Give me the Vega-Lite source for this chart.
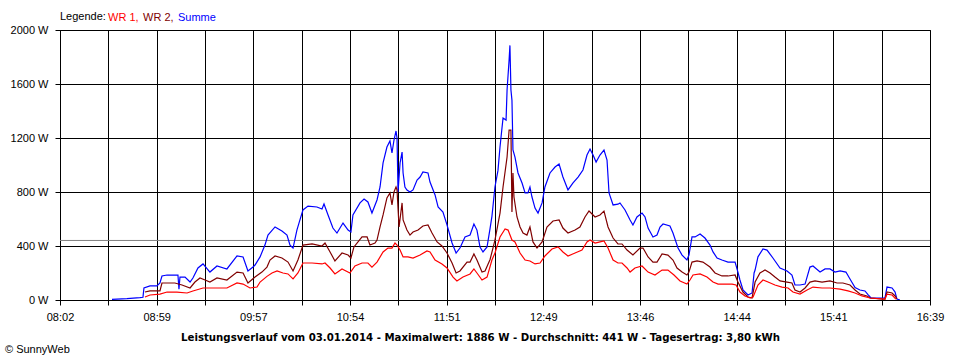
{
  "$schema": "https://vega.github.io/schema/vega-lite/v6.json",
  "width": 870,
  "height": 270,
  "autosize": {"type": "none"},
  "padding": {"left": 60, "top": 30, "right": 30, "bottom": 60},
  "background": "white",
  "config": {"font": "Liberation Sans", "view": {"stroke": "black"}},
  "title": {"text": "© SunnyWeb", "orient": "bottom", "anchor": "start", "frame": "group", "dx": -55, "offset": 2, "fontSize": 11, "fontWeight": "normal", "color": "black"},
  "layer": [
    {
      "data": {"values": [{"watt": 441}]},
      "mark": {"type": "rule", "color": "#808080", "strokeWidth": 1},
      "encoding": {"y": {"field": "watt", "type": "quantitative", "scale": {"domain": [0, 2000]}}}
    },
    {
      "data": {"values": [
        {"zeit":513.0,"serie":"Summe","watt":5},{"zeit":521.9,"serie":"Summe","watt":10},{"zeit":529.6,"serie":"Summe","watt":17},{"zeit":531.4,"serie":"Summe","watt":20},{"zeit":532.0,"serie":"Summe","watt":89},{"zeit":535.6,"serie":"Summe","watt":104},{"zeit":539.7,"serie":"Summe","watt":104},{"zeit":541.5,"serie":"Summe","watt":126},{"zeit":542.7,"serie":"Summe","watt":178},{"zeit":545.7,"serie":"Summe","watt":185},{"zeit":552.2,"serie":"Summe","watt":185},{"zeit":552.8,"serie":"Summe","watt":80},{"zeit":553.4,"serie":"Summe","watt":170},{"zeit":556.4,"serie":"Summe","watt":170},{"zeit":559.4,"serie":"Summe","watt":133},{"zeit":561.1,"serie":"Summe","watt":163},{"zeit":564.1,"serie":"Summe","watt":237},{"zeit":567.1,"serie":"Summe","watt":267},{"zeit":571.2,"serie":"Summe","watt":207},{"zeit":575.4,"serie":"Summe","watt":252},{"zeit":581.3,"serie":"Summe","watt":230},{"zeit":587.3,"serie":"Summe","watt":326},{"zeit":590.9,"serie":"Summe","watt":319},{"zeit":593.8,"serie":"Summe","watt":215},{"zeit":596.8,"serie":"Summe","watt":244},{"zeit":598.0,"serie":"Summe","watt":259},{"zeit":601.0,"serie":"Summe","watt":319},{"zeit":603.9,"serie":"Summe","watt":407},{"zeit":605.7,"serie":"Summe","watt":481},{"zeit":609.9,"serie":"Summe","watt":541},{"zeit":614.0,"serie":"Summe","watt":511},{"zeit":617.0,"serie":"Summe","watt":481},{"zeit":618.8,"serie":"Summe","watt":407},{"zeit":620.6,"serie":"Summe","watt":385},{"zeit":622.9,"serie":"Summe","watt":518},{"zeit":624.7,"serie":"Summe","watt":593},{"zeit":626.5,"serie":"Summe","watt":667},{"zeit":629.5,"serie":"Summe","watt":696},{"zeit":634.8,"serie":"Summe","watt":689},{"zeit":637.8,"serie":"Summe","watt":674},{"zeit":639.0,"serie":"Summe","watt":711},{"zeit":641.4,"serie":"Summe","watt":630},{"zeit":644.3,"serie":"Summe","watt":533},{"zeit":646.7,"serie":"Summe","watt":496},{"zeit":650.3,"serie":"Summe","watt":570},{"zeit":653.3,"serie":"Summe","watt":518},{"zeit":655.0,"serie":"Summe","watt":504},{"zeit":656.2,"serie":"Summe","watt":630},{"zeit":660.4,"serie":"Summe","watt":719},{"zeit":662.8,"serie":"Summe","watt":748},{"zeit":665.1,"serie":"Summe","watt":726},{"zeit":667.5,"serie":"Summe","watt":644},{"zeit":670.5,"serie":"Summe","watt":741},{"zeit":672.3,"serie":"Summe","watt":837},{"zeit":674.1,"serie":"Summe","watt":1015},{"zeit":676.4,"serie":"Summe","watt":1133},{"zeit":678.2,"serie":"Summe","watt":1178},{"zeit":679.4,"serie":"Summe","watt":1089},{"zeit":680.6,"serie":"Summe","watt":1185},{"zeit":681.8,"serie":"Summe","watt":1252},{"zeit":682.4,"serie":"Summe","watt":1200},{"zeit":683.0,"serie":"Summe","watt":800},{"zeit":684.2,"serie":"Summe","watt":1015},{"zeit":685.4,"serie":"Summe","watt":1096},{"zeit":686.0,"serie":"Summe","watt":941},{"zeit":687.1,"serie":"Summe","watt":837},{"zeit":688.3,"serie":"Summe","watt":815},{"zeit":690.1,"serie":"Summe","watt":800},{"zeit":691.9,"serie":"Summe","watt":815},{"zeit":694.3,"serie":"Summe","watt":889},{"zeit":696.1,"serie":"Summe","watt":911},{"zeit":697.8,"serie":"Summe","watt":948},{"zeit":700.8,"serie":"Summe","watt":941},{"zeit":702.0,"serie":"Summe","watt":874},{"zeit":705.0,"serie":"Summe","watt":778},{"zeit":706.8,"serie":"Summe","watt":689},{"zeit":709.7,"serie":"Summe","watt":652},{"zeit":712.1,"serie":"Summe","watt":556},{"zeit":715.1,"serie":"Summe","watt":422},{"zeit":717.5,"serie":"Summe","watt":348},{"zeit":719.8,"serie":"Summe","watt":385},{"zeit":722.8,"serie":"Summe","watt":467},{"zeit":725.8,"serie":"Summe","watt":481},{"zeit":728.1,"serie":"Summe","watt":563},{"zeit":729.9,"serie":"Summe","watt":518},{"zeit":731.7,"serie":"Summe","watt":393},{"zeit":733.5,"serie":"Summe","watt":356},{"zeit":735.9,"serie":"Summe","watt":393},{"zeit":737.7,"serie":"Summe","watt":530},{"zeit":738.8,"serie":"Summe","watt":620},{"zeit":740.6,"serie":"Summe","watt":837},{"zeit":742.4,"serie":"Summe","watt":960},{"zeit":743.6,"serie":"Summe","watt":1133},{"zeit":745.4,"serie":"Summe","watt":1348},{"zeit":747.2,"serie":"Summe","watt":1333},{"zeit":747.8,"serie":"Summe","watt":1555},{"zeit":749.0,"serie":"Summe","watt":1778},{"zeit":749.5,"serie":"Summe","watt":1886},{"zeit":750.1,"serie":"Summe","watt":1555},{"zeit":750.7,"serie":"Summe","watt":1481},{"zeit":751.3,"serie":"Summe","watt":1111},{"zeit":752.5,"serie":"Summe","watt":1059},{"zeit":754.3,"serie":"Summe","watt":941},{"zeit":756.7,"serie":"Summe","watt":867},{"zeit":758.5,"serie":"Summe","watt":793},{"zeit":760.2,"serie":"Summe","watt":793},{"zeit":761.4,"serie":"Summe","watt":837},{"zeit":762.6,"serie":"Summe","watt":763},{"zeit":764.4,"serie":"Summe","watt":681},{"zeit":766.2,"serie":"Summe","watt":644},{"zeit":768.6,"serie":"Summe","watt":719},{"zeit":770.3,"serie":"Summe","watt":837},{"zeit":773.3,"serie":"Summe","watt":941},{"zeit":776.3,"serie":"Summe","watt":985},{"zeit":778.7,"serie":"Summe","watt":1007},{"zeit":781.0,"serie":"Summe","watt":911},{"zeit":784.0,"serie":"Summe","watt":815},{"zeit":787.0,"serie":"Summe","watt":867},{"zeit":790.0,"serie":"Summe","watt":911},{"zeit":792.9,"serie":"Summe","watt":963},{"zeit":795.3,"serie":"Summe","watt":1074},{"zeit":797.1,"serie":"Summe","watt":1118},{"zeit":798.9,"serie":"Summe","watt":1074},{"zeit":800.7,"serie":"Summe","watt":1022},{"zeit":803.0,"serie":"Summe","watt":1074},{"zeit":805.4,"serie":"Summe","watt":1111},{"zeit":807.2,"serie":"Summe","watt":1037},{"zeit":808.4,"serie":"Summe","watt":793},{"zeit":810.8,"serie":"Summe","watt":704},{"zeit":813.7,"serie":"Summe","watt":710},{"zeit":814.9,"serie":"Summe","watt":719},{"zeit":817.9,"serie":"Summe","watt":667},{"zeit":820.9,"serie":"Summe","watt":593},{"zeit":822.6,"serie":"Summe","watt":556},{"zeit":825.0,"serie":"Summe","watt":615},{"zeit":828.0,"serie":"Summe","watt":644},{"zeit":829.8,"serie":"Summe","watt":615},{"zeit":831.6,"serie":"Summe","watt":533},{"zeit":834.5,"serie":"Summe","watt":467},{"zeit":836.9,"serie":"Summe","watt":481},{"zeit":838.7,"serie":"Summe","watt":541},{"zeit":840.5,"serie":"Summe","watt":563},{"zeit":844.6,"serie":"Summe","watt":548},{"zeit":846.4,"serie":"Summe","watt":496},{"zeit":848.2,"serie":"Summe","watt":430},{"zeit":849.4,"serie":"Summe","watt":385},{"zeit":851.8,"serie":"Summe","watt":333},{"zeit":854.7,"serie":"Summe","watt":296},{"zeit":855.9,"serie":"Summe","watt":333},{"zeit":857.7,"serie":"Summe","watt":467},{"zeit":859.5,"serie":"Summe","watt":467},{"zeit":862.5,"serie":"Summe","watt":489},{"zeit":865.4,"serie":"Summe","watt":459},{"zeit":868.4,"serie":"Summe","watt":407},{"zeit":870.2,"serie":"Summe","watt":356},{"zeit":872.6,"serie":"Summe","watt":311},{"zeit":875.5,"serie":"Summe","watt":296},{"zeit":879.1,"serie":"Summe","watt":281},{"zeit":883.3,"serie":"Summe","watt":281},{"zeit":885.0,"serie":"Summe","watt":207},{"zeit":886.2,"serie":"Summe","watt":148},{"zeit":888.0,"serie":"Summe","watt":74},{"zeit":891.0,"serie":"Summe","watt":37},{"zeit":893.4,"serie":"Summe","watt":52},{"zeit":894.6,"serie":"Summe","watt":200},{"zeit":895.2,"serie":"Summe","watt":222},{"zeit":896.9,"serie":"Summe","watt":320},{"zeit":899.9,"serie":"Summe","watt":378},{"zeit":902.3,"serie":"Summe","watt":370},{"zeit":905.8,"serie":"Summe","watt":311},{"zeit":910.0,"serie":"Summe","watt":237},{"zeit":914.2,"serie":"Summe","watt":215},{"zeit":917.1,"serie":"Summe","watt":185},{"zeit":918.9,"serie":"Summe","watt":111},{"zeit":921.9,"serie":"Summe","watt":111},{"zeit":924.9,"serie":"Summe","watt":118},{"zeit":927.8,"serie":"Summe","watt":244},{"zeit":929.6,"serie":"Summe","watt":252},{"zeit":933.8,"serie":"Summe","watt":207},{"zeit":936.8,"serie":"Summe","watt":230},{"zeit":939.7,"serie":"Summe","watt":230},{"zeit":942.7,"serie":"Summe","watt":207},{"zeit":945.7,"serie":"Summe","watt":215},{"zeit":949.2,"serie":"Summe","watt":207},{"zeit":951.6,"serie":"Summe","watt":155},{"zeit":954.6,"serie":"Summe","watt":92},{"zeit":957.5,"serie":"Summe","watt":74},{"zeit":960.5,"serie":"Summe","watt":67},{"zeit":962.3,"serie":"Summe","watt":40},{"zeit":964.1,"serie":"Summe","watt":15},{"zeit":971.2,"serie":"Summe","watt":15},{"zeit":972.4,"serie":"Summe","watt":15},{"zeit":973.6,"serie":"Summe","watt":96},{"zeit":976.6,"serie":"Summe","watt":89},{"zeit":978.4,"serie":"Summe","watt":59},{"zeit":979.5,"serie":"Summe","watt":7},{"zeit":981.3,"serie":"Summe","watt":0},

        {"zeit":532.6,"serie":"WR 2","watt":59},{"zeit":535.6,"serie":"WR 2","watt":67},{"zeit":541.5,"serie":"WR 2","watt":67},{"zeit":542.7,"serie":"WR 2","watt":126},{"zeit":550.4,"serie":"WR 2","watt":126},{"zeit":554.6,"serie":"WR 2","watt":111},{"zeit":559.4,"serie":"WR 2","watt":89},{"zeit":562.3,"serie":"WR 2","watt":133},{"zeit":565.3,"serie":"WR 2","watt":163},{"zeit":568.3,"serie":"WR 2","watt":148},{"zeit":571.2,"serie":"WR 2","watt":133},{"zeit":575.4,"serie":"WR 2","watt":163},{"zeit":581.3,"serie":"WR 2","watt":148},{"zeit":587.3,"serie":"WR 2","watt":207},{"zeit":590.9,"serie":"WR 2","watt":200},{"zeit":593.8,"serie":"WR 2","watt":126},{"zeit":598.0,"serie":"WR 2","watt":170},{"zeit":602.1,"serie":"WR 2","watt":207},{"zeit":605.1,"serie":"WR 2","watt":244},{"zeit":606.9,"serie":"WR 2","watt":296},{"zeit":609.9,"serie":"WR 2","watt":326},{"zeit":614.0,"serie":"WR 2","watt":311},{"zeit":617.6,"serie":"WR 2","watt":281},{"zeit":620.6,"serie":"WR 2","watt":215},{"zeit":623.5,"serie":"WR 2","watt":296},{"zeit":626.5,"serie":"WR 2","watt":407},{"zeit":631.9,"serie":"WR 2","watt":415},{"zeit":637.8,"serie":"WR 2","watt":400},{"zeit":639.6,"serie":"WR 2","watt":422},{"zeit":642.6,"serie":"WR 2","watt":356},{"zeit":645.5,"serie":"WR 2","watt":289},{"zeit":649.7,"serie":"WR 2","watt":348},{"zeit":653.3,"serie":"WR 2","watt":333},{"zeit":655.0,"serie":"WR 2","watt":311},{"zeit":656.8,"serie":"WR 2","watt":393},{"zeit":661.6,"serie":"WR 2","watt":467},{"zeit":664.6,"serie":"WR 2","watt":467},{"zeit":666.3,"serie":"WR 2","watt":407},{"zeit":669.3,"serie":"WR 2","watt":422},{"zeit":670.5,"serie":"WR 2","watt":444},{"zeit":672.3,"serie":"WR 2","watt":541},{"zeit":674.1,"serie":"WR 2","watt":630},{"zeit":676.4,"serie":"WR 2","watt":756},{"zeit":678.2,"serie":"WR 2","watt":793},{"zeit":679.4,"serie":"WR 2","watt":704},{"zeit":680.6,"serie":"WR 2","watt":800},{"zeit":681.8,"serie":"WR 2","watt":837},{"zeit":682.4,"serie":"WR 2","watt":815},{"zeit":683.6,"serie":"WR 2","watt":541},{"zeit":685.4,"serie":"WR 2","watt":719},{"zeit":686.0,"serie":"WR 2","watt":593},{"zeit":688.3,"serie":"WR 2","watt":518},{"zeit":690.1,"serie":"WR 2","watt":481},{"zeit":691.9,"serie":"WR 2","watt":504},{"zeit":694.9,"serie":"WR 2","watt":518},{"zeit":697.8,"serie":"WR 2","watt":548},{"zeit":700.8,"serie":"WR 2","watt":556},{"zeit":703.2,"serie":"WR 2","watt":496},{"zeit":706.2,"serie":"WR 2","watt":430},{"zeit":709.1,"serie":"WR 2","watt":400},{"zeit":712.1,"serie":"WR 2","watt":348},{"zeit":715.1,"serie":"WR 2","watt":274},{"zeit":717.5,"serie":"WR 2","watt":200},{"zeit":719.8,"serie":"WR 2","watt":215},{"zeit":724.0,"serie":"WR 2","watt":281},{"zeit":725.8,"serie":"WR 2","watt":281},{"zeit":728.1,"serie":"WR 2","watt":341},{"zeit":729.9,"serie":"WR 2","watt":296},{"zeit":732.9,"serie":"WR 2","watt":207},{"zeit":734.7,"serie":"WR 2","watt":215},{"zeit":737.7,"serie":"WR 2","watt":300},{"zeit":740.6,"serie":"WR 2","watt":444},{"zeit":743.6,"serie":"WR 2","watt":644},{"zeit":745.4,"serie":"WR 2","watt":837},{"zeit":747.8,"serie":"WR 2","watt":1059},{"zeit":749.0,"serie":"WR 2","watt":1259},{"zeit":750.1,"serie":"WR 2","watt":1259},{"zeit":750.7,"serie":"WR 2","watt":652},{"zeit":751.3,"serie":"WR 2","watt":941},{"zeit":751.9,"serie":"WR 2","watt":763},{"zeit":753.7,"serie":"WR 2","watt":615},{"zeit":755.5,"serie":"WR 2","watt":541},{"zeit":757.3,"serie":"WR 2","watt":496},{"zeit":759.6,"serie":"WR 2","watt":481},{"zeit":761.4,"serie":"WR 2","watt":541},{"zeit":763.2,"serie":"WR 2","watt":430},{"zeit":765.6,"serie":"WR 2","watt":385},{"zeit":768.6,"serie":"WR 2","watt":430},{"zeit":771.5,"serie":"WR 2","watt":541},{"zeit":775.1,"serie":"WR 2","watt":585},{"zeit":778.7,"serie":"WR 2","watt":593},{"zeit":781.0,"serie":"WR 2","watt":533},{"zeit":784.0,"serie":"WR 2","watt":496},{"zeit":788.2,"serie":"WR 2","watt":518},{"zeit":791.1,"serie":"WR 2","watt":541},{"zeit":794.1,"serie":"WR 2","watt":615},{"zeit":796.5,"serie":"WR 2","watt":659},{"zeit":800.1,"serie":"WR 2","watt":615},{"zeit":803.0,"serie":"WR 2","watt":630},{"zeit":805.4,"serie":"WR 2","watt":659},{"zeit":807.8,"serie":"WR 2","watt":541},{"zeit":810.8,"serie":"WR 2","watt":459},{"zeit":813.7,"serie":"WR 2","watt":415},{"zeit":816.1,"serie":"WR 2","watt":415},{"zeit":819.1,"serie":"WR 2","watt":370},{"zeit":822.6,"serie":"WR 2","watt":333},{"zeit":826.8,"serie":"WR 2","watt":385},{"zeit":828.6,"serie":"WR 2","watt":385},{"zeit":831.6,"serie":"WR 2","watt":319},{"zeit":834.5,"serie":"WR 2","watt":281},{"zeit":836.9,"serie":"WR 2","watt":281},{"zeit":839.9,"serie":"WR 2","watt":341},{"zeit":843.4,"serie":"WR 2","watt":333},{"zeit":846.4,"serie":"WR 2","watt":296},{"zeit":848.8,"serie":"WR 2","watt":237},{"zeit":851.8,"serie":"WR 2","watt":207},{"zeit":854.7,"serie":"WR 2","watt":185},{"zeit":855.9,"serie":"WR 2","watt":207},{"zeit":857.7,"serie":"WR 2","watt":281},{"zeit":860.7,"serie":"WR 2","watt":289},{"zeit":864.2,"serie":"WR 2","watt":281},{"zeit":868.4,"serie":"WR 2","watt":244},{"zeit":871.4,"serie":"WR 2","watt":200},{"zeit":875.5,"serie":"WR 2","watt":178},{"zeit":879.1,"serie":"WR 2","watt":178},{"zeit":883.3,"serie":"WR 2","watt":185},{"zeit":885.0,"serie":"WR 2","watt":133},{"zeit":888.0,"serie":"WR 2","watt":59},{"zeit":891.0,"serie":"WR 2","watt":22},{"zeit":893.4,"serie":"WR 2","watt":15},{"zeit":895.2,"serie":"WR 2","watt":133},{"zeit":898.1,"serie":"WR 2","watt":200},{"zeit":901.1,"serie":"WR 2","watt":222},{"zeit":904.1,"serie":"WR 2","watt":200},{"zeit":907.0,"serie":"WR 2","watt":170},{"zeit":910.0,"serie":"WR 2","watt":141},{"zeit":914.2,"serie":"WR 2","watt":133},{"zeit":917.1,"serie":"WR 2","watt":126},{"zeit":918.9,"serie":"WR 2","watt":74},{"zeit":921.9,"serie":"WR 2","watt":59},{"zeit":924.9,"serie":"WR 2","watt":89},{"zeit":927.8,"serie":"WR 2","watt":133},{"zeit":930.8,"serie":"WR 2","watt":141},{"zeit":935.0,"serie":"WR 2","watt":133},{"zeit":939.7,"serie":"WR 2","watt":141},{"zeit":943.9,"serie":"WR 2","watt":126},{"zeit":947.4,"serie":"WR 2","watt":126},{"zeit":951.6,"serie":"WR 2","watt":111},{"zeit":954.6,"serie":"WR 2","watt":74},{"zeit":957.5,"serie":"WR 2","watt":44},{"zeit":961.7,"serie":"WR 2","watt":30},{"zeit":963.5,"serie":"WR 2","watt":15},{"zeit":971.2,"serie":"WR 2","watt":7},{"zeit":972.4,"serie":"WR 2","watt":7},{"zeit":973.6,"serie":"WR 2","watt":59},{"zeit":976.6,"serie":"WR 2","watt":52},{"zeit":978.4,"serie":"WR 2","watt":30},{"zeit":979.5,"serie":"WR 2","watt":7},

        {"zeit":532.6,"serie":"WR 1","watt":22},{"zeit":535.6,"serie":"WR 1","watt":37},{"zeit":541.5,"serie":"WR 1","watt":44},{"zeit":545.7,"serie":"WR 1","watt":59},{"zeit":551.6,"serie":"WR 1","watt":59},{"zeit":557.6,"serie":"WR 1","watt":52},{"zeit":561.1,"serie":"WR 1","watt":67},{"zeit":567.1,"serie":"WR 1","watt":89},{"zeit":575.4,"serie":"WR 1","watt":89},{"zeit":581.3,"serie":"WR 1","watt":89},{"zeit":587.3,"serie":"WR 1","watt":126},{"zeit":590.9,"serie":"WR 1","watt":118},{"zeit":595.0,"serie":"WR 1","watt":89},{"zeit":599.2,"serie":"WR 1","watt":96},{"zeit":601.0,"serie":"WR 1","watt":133},{"zeit":605.1,"serie":"WR 1","watt":175},{"zeit":608.1,"serie":"WR 1","watt":200},{"zeit":611.1,"serie":"WR 1","watt":215},{"zeit":614.6,"serie":"WR 1","watt":200},{"zeit":617.6,"serie":"WR 1","watt":193},{"zeit":620.6,"serie":"WR 1","watt":156},{"zeit":623.5,"serie":"WR 1","watt":200},{"zeit":626.5,"serie":"WR 1","watt":274},{"zeit":631.9,"serie":"WR 1","watt":274},{"zeit":637.8,"serie":"WR 1","watt":267},{"zeit":639.6,"serie":"WR 1","watt":274},{"zeit":642.6,"serie":"WR 1","watt":237},{"zeit":645.5,"serie":"WR 1","watt":193},{"zeit":649.7,"serie":"WR 1","watt":230},{"zeit":654.4,"serie":"WR 1","watt":200},{"zeit":657.4,"serie":"WR 1","watt":252},{"zeit":661.6,"serie":"WR 1","watt":274},{"zeit":665.1,"serie":"WR 1","watt":274},{"zeit":667.5,"serie":"WR 1","watt":244},{"zeit":670.5,"serie":"WR 1","watt":281},{"zeit":674.1,"serie":"WR 1","watt":356},{"zeit":677.0,"serie":"WR 1","watt":385},{"zeit":679.4,"serie":"WR 1","watt":385},{"zeit":681.2,"serie":"WR 1","watt":422},{"zeit":682.4,"serie":"WR 1","watt":407},{"zeit":684.2,"serie":"WR 1","watt":370},{"zeit":686.0,"serie":"WR 1","watt":319},{"zeit":688.9,"serie":"WR 1","watt":319},{"zeit":691.9,"serie":"WR 1","watt":311},{"zeit":696.1,"serie":"WR 1","watt":333},{"zeit":700.2,"serie":"WR 1","watt":363},{"zeit":702.0,"serie":"WR 1","watt":356},{"zeit":705.0,"serie":"WR 1","watt":296},{"zeit":709.1,"serie":"WR 1","watt":267},{"zeit":712.1,"serie":"WR 1","watt":237},{"zeit":715.7,"serie":"WR 1","watt":170},{"zeit":718.0,"serie":"WR 1","watt":141},{"zeit":721.6,"serie":"WR 1","watt":170},{"zeit":725.8,"serie":"WR 1","watt":193},{"zeit":728.1,"serie":"WR 1","watt":230},{"zeit":729.9,"serie":"WR 1","watt":200},{"zeit":732.9,"serie":"WR 1","watt":148},{"zeit":735.9,"serie":"WR 1","watt":170},{"zeit":738.8,"serie":"WR 1","watt":296},{"zeit":740.6,"serie":"WR 1","watt":348},{"zeit":743.6,"serie":"WR 1","watt":467},{"zeit":746.6,"serie":"WR 1","watt":526},{"zeit":748.4,"serie":"WR 1","watt":518},{"zeit":750.7,"serie":"WR 1","watt":444},{"zeit":752.5,"serie":"WR 1","watt":430},{"zeit":755.5,"serie":"WR 1","watt":348},{"zeit":758.5,"serie":"WR 1","watt":296},{"zeit":761.4,"serie":"WR 1","watt":289},{"zeit":764.4,"serie":"WR 1","watt":267},{"zeit":767.4,"serie":"WR 1","watt":274},{"zeit":770.3,"serie":"WR 1","watt":326},{"zeit":774.5,"serie":"WR 1","watt":378},{"zeit":778.1,"serie":"WR 1","watt":393},{"zeit":781.0,"serie":"WR 1","watt":356},{"zeit":784.0,"serie":"WR 1","watt":326},{"zeit":788.2,"serie":"WR 1","watt":348},{"zeit":792.3,"serie":"WR 1","watt":370},{"zeit":795.3,"serie":"WR 1","watt":430},{"zeit":797.1,"serie":"WR 1","watt":444},{"zeit":800.1,"serie":"WR 1","watt":422},{"zeit":803.0,"serie":"WR 1","watt":430},{"zeit":805.4,"serie":"WR 1","watt":437},{"zeit":807.8,"serie":"WR 1","watt":385},{"zeit":810.8,"serie":"WR 1","watt":296},{"zeit":813.7,"serie":"WR 1","watt":274},{"zeit":816.1,"serie":"WR 1","watt":274},{"zeit":819.1,"serie":"WR 1","watt":237},{"zeit":820.9,"serie":"WR 1","watt":207},{"zeit":823.8,"serie":"WR 1","watt":237},{"zeit":828.0,"serie":"WR 1","watt":252},{"zeit":831.6,"serie":"WR 1","watt":207},{"zeit":835.7,"serie":"WR 1","watt":185},{"zeit":839.9,"serie":"WR 1","watt":222},{"zeit":843.4,"serie":"WR 1","watt":222},{"zeit":847.0,"serie":"WR 1","watt":185},{"zeit":850.6,"serie":"WR 1","watt":141},{"zeit":854.7,"serie":"WR 1","watt":118},{"zeit":856.5,"serie":"WR 1","watt":148},{"zeit":858.3,"serie":"WR 1","watt":185},{"zeit":862.5,"serie":"WR 1","watt":193},{"zeit":866.6,"serie":"WR 1","watt":170},{"zeit":870.2,"serie":"WR 1","watt":133},{"zeit":873.2,"serie":"WR 1","watt":118},{"zeit":877.3,"serie":"WR 1","watt":118},{"zeit":881.5,"serie":"WR 1","watt":118},{"zeit":883.9,"serie":"WR 1","watt":111},{"zeit":886.2,"serie":"WR 1","watt":59},{"zeit":889.2,"serie":"WR 1","watt":30},{"zeit":892.2,"serie":"WR 1","watt":15},{"zeit":894.0,"serie":"WR 1","watt":22},{"zeit":896.9,"serie":"WR 1","watt":111},{"zeit":899.9,"serie":"WR 1","watt":148},{"zeit":902.9,"serie":"WR 1","watt":133},{"zeit":907.0,"serie":"WR 1","watt":111},{"zeit":911.2,"serie":"WR 1","watt":96},{"zeit":914.8,"serie":"WR 1","watt":89},{"zeit":917.7,"serie":"WR 1","watt":59},{"zeit":921.9,"serie":"WR 1","watt":44},{"zeit":926.1,"serie":"WR 1","watt":74},{"zeit":929.6,"serie":"WR 1","watt":96},{"zeit":935.0,"serie":"WR 1","watt":89},{"zeit":939.7,"serie":"WR 1","watt":89},{"zeit":945.7,"serie":"WR 1","watt":81},{"zeit":950.4,"serie":"WR 1","watt":67},{"zeit":954.6,"serie":"WR 1","watt":52},{"zeit":958.7,"serie":"WR 1","watt":30},{"zeit":963.5,"serie":"WR 1","watt":15},{"zeit":972.4,"serie":"WR 1","watt":7},{"zeit":973.6,"serie":"WR 1","watt":44},{"zeit":976.6,"serie":"WR 1","watt":37},{"zeit":978.9,"serie":"WR 1","watt":7}
      ]},
      "mark": {"type": "line", "strokeWidth": 1.2, "clip": true},
      "encoding": {
        "x": {
          "field": "zeit", "type": "quantitative",
          "scale": {"domain": [482.1, 999.15], "nice": false, "zero": false},
          "axis": {
            "values": [482.1, 510.825, 539.55, 568.275, 597.0, 625.725, 654.45, 683.175, 711.9, 740.625, 769.35, 798.075, 826.8, 855.525, 884.25, 912.975, 941.7, 970.425, 999.15],
            "labelExpr": "round((datum.value-482.1)/28.725) % 2 == 0 ? ((floor(datum.value/60) < 10 ? '0' : '') + floor(datum.value/60) + ':' + (floor(datum.value % 60) < 10 ? '0' : '') + floor(datum.value % 60)) : ''",
            "grid": true, "gridColor": "black", "gridOpacity": 1, "gridWidth": 1,
            "domainColor": "black", "tickColor": "black", "tickSize": 5, "tickWidth": 1,
            "labelColor": "black", "labelFontSize": 11, "labelPadding": 6, "labelFlush": false, "labelOverlap": false,
            "title": "Leistungsverlauf vom 03.01.2014 - Maximalwert: 1886 W - Durchschnitt: 441 W - Tagesertrag: 3,80 kWh",
            "titleFont": "DejaVu Sans", "titleFontSize": 10.2, "titleFontWeight": "bold", "titleColor": "black", "titlePadding": 10,
            "titleX": 420, "titleAlign": "center", "titleAnchor": null
          }
        },
        "y": {
          "field": "watt", "type": "quantitative",
          "scale": {"domain": [0, 2000], "nice": false},
          "axis": {
            "values": [0, 400, 800, 1200, 1600, 2000],
            "labelExpr": "datum.value + ' W'",
            "grid": true, "gridColor": "black", "gridOpacity": 1, "gridWidth": 1,
            "domainColor": "black", "tickColor": "black", "tickSize": 5,
            "labelColor": "black", "labelFontSize": 11, "labelPadding": 7, "labelFlush": false, "labelOverlap": false,
            "title": null
          }
        },
        "color": {
          "field": "serie", "type": "nominal",
          "scale": {"domain": ["WR 1", "WR 2", "Summe"], "range": ["#ff0000", "#800000", "#0000ff"]},
          "legend": {
            "orient": "none", "legendX": 0, "legendY": -18, "direction": "horizontal",
            "title": "Legende:", "titleOrient": "left", "titleFontSize": 11, "titleFontWeight": "normal", "titleColor": "black", "titlePadding": 3,
            "labelFontSize": 11, "labelOffset": -12, "symbolType": "circle", "symbolSize": 0, "symbolOpacity": 0, "symbolStrokeWidth": 0, "columnPadding": 4,
            "labelExpr": "datum.label == 'Summe' ? datum.label : datum.label + ','",
            "encode": {"labels": {"update": {"fill": {"scale": "color", "field": "value"}}}}
          }
        }
      }
    }
  ]
}
